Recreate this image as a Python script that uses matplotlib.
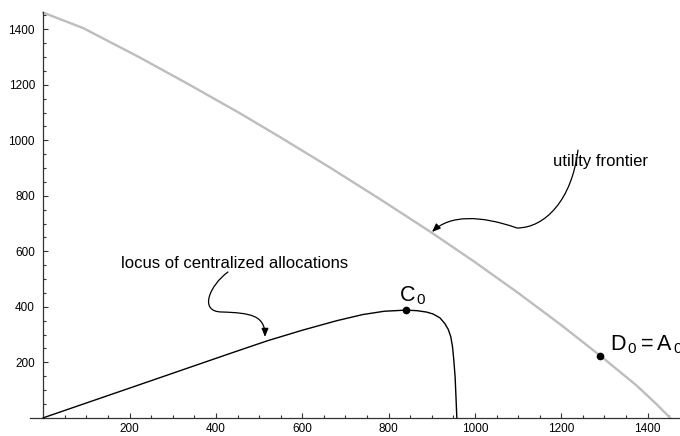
import numpy as np
import matplotlib
matplotlib.use("Agg")
import matplotlib.pyplot as plt
from matplotlib.path import Path
from matplotlib.patches import FancyArrowPatch

plt.rcParams["font.family"] = ["Liberation Sans", "DejaVu Sans"]
plt.rcParams["mathtext.fontset"] = "custom"
plt.rcParams["mathtext.rm"] = "Liberation Sans"
plt.rcParams["mathtext.it"] = "Liberation Sans:italic"

# ............................................
# DATA
# ............................................
frontier_x = [0, 93, 224, 340, 456, 548, 664, 780, 896, 1000, 1100, 1200, 1290, 1374, 1420, 1452]
frontier_y = [1460, 1404, 1298, 1199, 1097, 1012, 902, 788, 671, 561, 450, 334, 224, 117, 50, 0]

locus_x = [0, 200, 433, 520, 601, 680, 740, 790, 840, 866, 888, 903, 919, 930, 938, 944,
           948, 951, 954, 956, 958]
locus_y = [0, 107, 232, 278, 316, 350, 372, 384, 388, 386, 381, 374, 360, 340, 319, 292,
           256, 208, 148, 76, 0]

point_c0 = (840, 388)
point_d0 = (1290, 224)

x_ticks = [200, 400, 600, 800, 1000, 1200, 1400]
y_ticks = [200, 400, 600, 800, 1000, 1200, 1400]

# ............................................
# FIGURE
# ............................................
fig = plt.figure(figsize=(6.8, 4.36), dpi=100)
ax = fig.add_axes([0, 0, 1, 1])
ax.set_xlim(-100.3, 1475)
ax.set_ylim(-65.6, 1505.6)

ax.plot(frontier_x, frontier_y, color="#bdbdbd", lw=1.7, solid_joinstyle="round", zorder=2)
ax.plot(locus_x, locus_y, color="black", lw=1.0, solid_joinstyle="round", zorder=3)

ax.plot(*point_c0, "o", color="black", ms=4.5, zorder=4)
ax.plot(*point_d0, "o", color="black", ms=4.5, zorder=4)

ax.text(824, 418, r"$\mathrm{C}_{\,0}$", fontsize=15.5, ha="left", va="baseline")
ax.text(1312, 244, r"$\mathrm{D}_{\,0} = \mathrm{A}_{\,0}$", fontsize=15.5, ha="left",
        va="baseline")

ax.text(1290, 925, "utility frontier", fontsize=12, ha="center", va="center")
ax.text(442, 557, "locus of centralized allocations", fontsize=12, ha="center", va="center")

# curly annotation arrows (cubic bezier paths)
C4 = Path.CURVE4
frontier_arrow = Path(
    [(1238.6, 964.7), (1224.7, 784.9), (1162.2, 684.0), (1097.3, 684.0),
     (1011.6, 730.8), (942.1, 730.8), (900.4, 669.5)],
    [Path.MOVETO, C4, C4, C4, C4, C4, C4])
locus_arrow = Path(
    [(427.8, 525.4), (386.1, 478.6), (358.4, 381.3), (414.0, 381.3),
     (478.8, 377.7), (513.6, 370.5), (513.6, 291.2)],
    [Path.MOVETO, C4, C4, C4, C4, C4, C4])
for p in (frontier_arrow, locus_arrow):
    arr = FancyArrowPatch(path=p, arrowstyle="-|>,head_length=0.5,head_width=0.2",
                          mutation_scale=10, color="black", lw=0.9,
                          transform=ax.transData, zorder=5)
    ax.add_patch(arr)

# ----------------------------------------
# AXES THROUGH THE ORIGIN
# ----------------------------------------
for side in ("top", "right"):
    ax.spines[side].set_visible(False)
ax.spines["left"].set_position(("data", 0))
ax.spines["bottom"].set_position(("data", 0))
ax.spines["left"].set_bounds(0, 1463)
ax.spines["bottom"].set_bounds(-31, 1475)
for side in ("left", "bottom"):
    ax.spines[side].set_color("#333333")
    ax.spines[side].set_linewidth(0.9)

ax.set_xticks(x_ticks)
ax.set_yticks(y_ticks)
ax.set_xticks(np.arange(50, 1451, 50), minor=True)
ax.set_yticks(np.arange(50, 1451, 50), minor=True)
ax.tick_params(which="both", direction="in", color="#333333", width=0.8)
ax.tick_params(which="major", length=3.6, labelsize=8.5)
ax.tick_params(axis="x", which="major", pad=4)
ax.tick_params(axis="y", which="major", pad=6)
ax.tick_params(which="minor", length=2.2)

fig.savefig("out.png", dpi=100)
